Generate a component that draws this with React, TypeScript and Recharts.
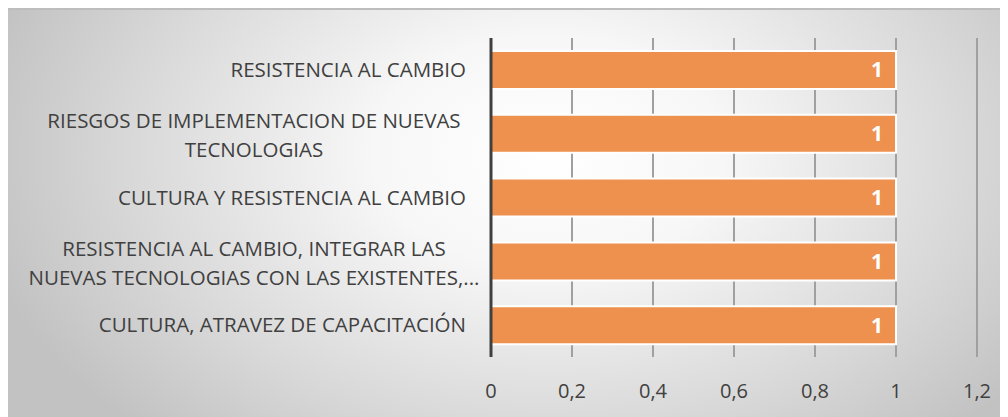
import { Bar, BarChart, CartesianGrid, LabelList, XAxis, YAxis } from "recharts";

const categories = [
  "RESISTENCIA AL CAMBIO",
  "RIESGOS DE IMPLEMENTACION DE NUEVAS TECNOLOGIAS",
  "CULTURA Y RESISTENCIA AL CAMBIO ",
  "RESISTENCIA AL CAMBIO, INTEGRAR LAS NUEVAS TECNOLOGIAS CON LAS EXISTENTES",
  "CULTURA, ATRAVEZ DE CAPACITACIÓN"
];

// wrapped label lines as shown on the axis
const labelLines = [
  ["RESISTENCIA AL CAMBIO"],
  ["RIESGOS DE IMPLEMENTACION DE NUEVAS", "TECNOLOGIAS"],
  ["CULTURA Y RESISTENCIA AL CAMBIO "],
  ["RESISTENCIA AL CAMBIO, INTEGRAR LAS", "NUEVAS TECNOLOGIAS CON LAS EXISTENTES,..."],
  ["CULTURA, ATRAVEZ DE CAPACITACIÓN"]
];

const values = [1, 1, 1, 1, 1];

const xTicks = [0, 0.2, 0.4, 0.6, 0.8, 1, 1.2];

const data = categories.map((name, i) => ({ name, value: values[i], index: i }));

const FONT = "'Open Sans', sans-serif";
const TEXT = "#404040";

function CategoryTick(props: any) {
  const { y, payload } = props;
  const lines = labelLines[payload.index] ?? [String(payload.value)];
  if (lines.length === 1) {
    return (
      <text x={462} y={y} dy="0.35em" textAnchor="end" fill={TEXT} fontSize={20.5} fontFamily={FONT}>
        {lines[0]}
      </text>
    );
  }
  const lh = 29;
  const start = y + 2 - ((lines.length - 1) * lh) / 2;
  return (
    <text textAnchor="middle" fill={TEXT} fontSize={20.5} fontFamily={FONT}>
      {lines.map((l, i) => (
        <tspan key={i} x={250} y={start + i * lh} dy="0.35em">
          {l}
        </tspan>
      ))}
    </text>
  );
}

export default function App() {
  return (
    <div
      style={{
        position: "relative",
        left: -4,
        width: 1008,
        height: 409,
        borderTop: "2px solid #bdbdbd",
        boxSizing: "border-box",
        background:
          "radial-gradient(ellipse 58% 95% at 54% 35%, #ffffff 0%, #f7f7f7 30%, #d8d8d8 72%, #c2c2c2 100%)"
      }}
    >
      <BarChart
        width={1008}
        height={407}
        data={data}
        layout="vertical"
        margin={{ top: 28, right: 35, bottom: 30, left: 0 }}
        barCategoryGap={0}
      >
        <CartesianGrid horizontal={false} stroke="#a0a0a0" strokeWidth={2} />
        <XAxis
          type="number"
          domain={[0, 1.2]}
          ticks={xTicks}
          axisLine={false}
          tickLine={false}
          tickMargin={21}
          tickFormatter={(v: number) => String(v).replace(".", ",")}
          tick={{ fill: TEXT, fontSize: 20, fontFamily: FONT }}
          height={30}
        />
        <YAxis
          type="category"
          dataKey="name"
          width={487}
          axisLine={{ stroke: "#404040", strokeWidth: 3 }}
          tickLine={false}
          tick={<CategoryTick />}
          interval={0}
        />
        <Bar dataKey="value" fill="#ee904e" stroke="#ffffff" strokeWidth={2} barSize={38} isAnimationActive={false}>
          <LabelList
            dataKey="value"
            position="insideRight"
            offset={13}
            fill="#ffffff"
            fontSize={21}
            fontWeight="bold"
            fontFamily={FONT}
          />
        </Bar>
      </BarChart>
    </div>
  );
}
